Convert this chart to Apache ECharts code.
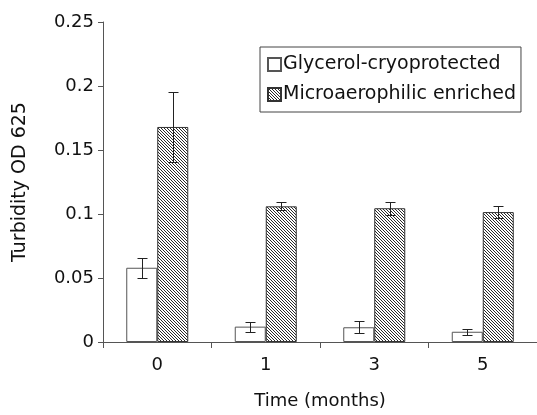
<!DOCTYPE html>
<html><head><meta charset="utf-8">
<script src="https://cdn.jsdelivr.net/npm/echarts@6/dist/echarts.min.js"></script>
<style>html,body{margin:0;padding:0;background:#fff}#c{width:537px;height:415px}</style>
</head><body><div id="c"></div>
<script>
const categories = ['0', '1', '3', '5'];
const glycerol = [0.058, 0.012, 0.0115, 0.008];
const glycerolErr = [0.0078, 0.004, 0.0047, 0.0025];
const micro = [0.168, 0.106, 0.1045, 0.1015];
const microErr = [0.027, 0.003, 0.005, 0.0046];
const yTicks = [0, 0.05, 0.1, 0.15, 0.2, 0.25];

function hatch() {
  const c = document.createElement('canvas');
  c.width = 3; c.height = 3;
  const g = c.getContext('2d');
  g.fillStyle = '#fff'; g.fillRect(0, 0, 3, 3);
  g.fillStyle = '#2a2a2a';
  for (let k = 0; k < 3; k++) g.fillRect(k, k, 1, 1);
  return c;
}
const pattern = { image: hatch(), repeat: 'repeat' };
const font = 'DejaVu Sans, Verdana, sans-serif';
const axisCol = '#555';

function errSeries(vals, errs, offset) {
  return {
    type: 'custom',
    data: vals.map((v, i) => [i, v, errs[i]]),
    z: 5,
    silent: true,
    renderItem: function (params, api) {
      const i = api.value(0), v = api.value(1), e = api.value(2);
      const top = api.coord([i, v + e]);
      const bot = api.coord([i, v - e]);
      const x = Math.round(top[0] + offset) + 0.5;
      const yt = Math.round(top[1]) + 0.5, yb = Math.round(bot[1]) + 0.5;
      const cap = 5;
      const st = { stroke: '#222', lineWidth: 1 };
      return {
        type: 'group',
        children: [
          { type: 'line', shape: { x1: x, y1: yt, x2: x, y2: yb }, style: st },
          { type: 'line', shape: { x1: x - cap, y1: yt, x2: x + cap, y2: yt }, style: st },
          { type: 'line', shape: { x1: x - cap, y1: yb, x2: x + cap, y2: yb }, style: st }
        ]
      };
    }
  };
}

const chart = echarts.init(document.getElementById('c'), null, { renderer: 'canvas' });
chart.setOption({
  animation: false,
  textStyle: { fontFamily: font },
  grid: { left: 103, right: 0, top: 22, bottom: 71 },
  legend: {
    left: 260, top: 47,
    orient: 'vertical',
    backgroundColor: '#fff',
    borderColor: '#444', borderWidth: 1,
    padding: [8, 5, 8, 7],
    itemGap: 11,
    itemWidth: 13, itemHeight: 13,
    icon: 'rect',
    textStyle: { fontSize: 19, color: '#111', fontFamily: font, padding: [0, 0, 0, -3] },
    data: ['Glycerol-cryoprotected', 'Microaerophilic enriched']
  },
  xAxis: {
    type: 'category',
    data: categories,
    name: 'Time (months)',
    nameLocation: 'middle',
    nameGap: 50,
    nameTextStyle: { fontSize: 18, color: '#111', fontFamily: font },
    axisLine: { lineStyle: { color: axisCol, width: 1 } },
    axisTick: { show: true, length: 6, lineStyle: { color: axisCol } },
    axisLabel: { fontSize: 18, color: '#111', margin: 14, fontFamily: font }
  },
  yAxis: {
    type: 'value',
    min: yTicks[0], max: yTicks[yTicks.length - 1], interval: 0.05,
    name: 'Turbidity OD 625',
    nameLocation: 'middle',
    nameGap: 73,
    nameTextStyle: { fontSize: 19, color: '#111', fontFamily: font },
    splitLine: { show: false },
    axisLine: { show: true, lineStyle: { color: axisCol, width: 1 } },
    axisTick: { show: true, length: 5, lineStyle: { color: axisCol } },
    axisLabel: { fontSize: 18, color: '#111', margin: 9, fontFamily: font }
  },
  series: [
    {
      name: 'Glycerol-cryoprotected', type: 'bar', data: glycerol,
      barWidth: 31, barGap: '0%',
      itemStyle: { color: '#fff', borderColor: '#555', borderWidth: 1 }
    },
    {
      name: 'Microaerophilic enriched', type: 'bar', data: micro,
      barWidth: 31,
      itemStyle: { color: pattern, borderColor: '#333', borderWidth: 1 }
    },
    errSeries(glycerol, glycerolErr, -15.5),
    errSeries(micro, microErr, 15.5)
  ]
});
</script></body></html>
